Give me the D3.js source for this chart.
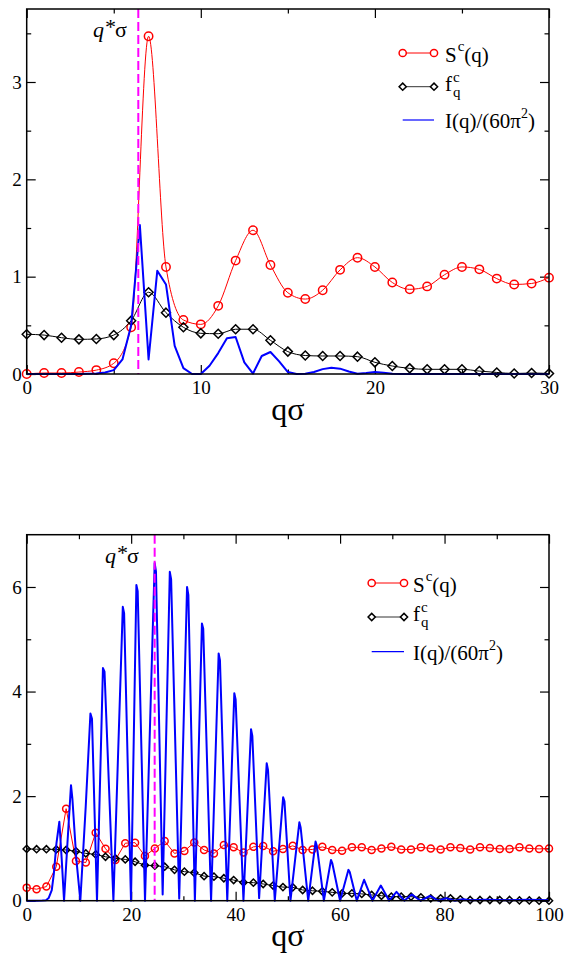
<!DOCTYPE html>
<html>
<head>
<meta charset="utf-8">
<script src="https://cdn.jsdelivr.net/npm/d3@7/dist/d3.min.js"></script>
<style>
  body { margin: 0; background: #fff; }
  svg { display: block; }
</style>
</head>
<body>
<svg id="chart" width="566" height="954"></svg>
<script>
// ---- Upper panel data (integer q grid) ----
const qTop = [0,1,2,3,4,5,6,7,8,9,10,11,12,13,14,15,16,17,18,19,20,21,22,23,24,25,26,27,28,29,30];
const sTop = [0.00,0.01,0.01,0.02,0.04,0.11,0.48,3.47,1.10,0.555,0.51,0.70,1.165,1.477,1.12,0.835,0.77,0.86,1.07,1.195,1.10,0.94,0.87,0.90,1.02,1.10,1.075,0.98,0.92,0.93,0.99];
const fTop = [0.408,0.40,0.373,0.356,0.36,0.40,0.548,0.84,0.63,0.48,0.418,0.414,0.46,0.46,0.346,0.23,0.19,0.185,0.185,0.178,0.12,0.082,0.058,0.048,0.048,0.048,0.03,0.016,0.005,0.01,0.005];
const iTopQ = [0,1,2,3,3.5,4,4.5,5,5.5,6,6.5,7,7.5,8,8.5,9,9.5,10,10.5,11,11.5,12,12.5,13,13.5,14,14.5,15,15.5,16,16.5,17,17.5,18,18.5,19,19.5,20,20.5,21,21.5,22,23,24,25,26,27,28,29,30];
const iTopV = [0,0,0,0,0.002,0.005,0.015,0.04,0.15,0.5,1.53,0.15,1.06,0.92,0.29,0.06,0,0,0.085,0.215,0.367,0.38,0.12,0.005,0.185,0.226,0.13,0.02,0,0.002,0.02,0.05,0.065,0.055,0.025,0.003,0.01,0.02,0.012,0.003,0,0,0,0,0,0,0,0,0,0];
const qStarTop = 6.41;

// ---- Lower panel data ----
const qBot = [0,1.89,3.77,5.66,7.55,9.43,11.32,13.21,15.09,16.98,18.87,20.75,22.64,24.53,26.42,28.30,30.19,32.08,33.96,35.85,37.74,39.62,41.51,43.40,45.28,47.17,49.06,50.94,52.83,54.72,56.60,58.49,60.38,62.26,64.15,66.04,67.92,69.81,71.70,73.58,75.47,77.36,79.25,81.13,83.02,84.91,86.79,88.68,90.57,92.45,94.34,96.23,98.11,100];
const sBot = [0.25,0.22,0.27,0.65,1.76,0.76,0.73,1.30,0.995,0.78,1.10,1.11,0.855,1.00,1.14,0.905,0.95,1.115,0.97,0.905,1.065,1.02,0.92,1.03,1.045,0.945,0.99,1.05,0.97,0.98,1.03,0.97,0.955,1.02,1.02,0.97,1.00,1.03,0.98,0.98,1.02,1.00,0.98,1.02,1.01,0.98,1.02,1.01,0.99,0.99,1.02,1.00,0.99,1.00];
const fBot = [0.99,0.985,0.985,0.98,0.97,0.945,0.905,0.885,0.84,0.81,0.79,0.745,0.68,0.67,0.65,0.59,0.555,0.535,0.47,0.46,0.43,0.395,0.35,0.345,0.32,0.29,0.26,0.255,0.205,0.19,0.18,0.16,0.14,0.14,0.13,0.11,0.095,0.077,0.077,0.077,0.064,0.045,0.045,0.045,0.026,0.013,0.013,0.013,0.013,0.013,0.005,0.005,0.0,0.0];
const iBotQ = [0,2,3,3.7,4.2,4.8,5.2,5.7,6.25,6.7,7.15,7.8,8.48,8.75,9.5,10.27,11.3,12.2,12.5,13.46,14.6,14.9,16.6,18.4,18.65,19.97,21.0,21.25,22.65,24.5,24.75,26.03,27.4,27.65,29.2,30.7,30.95,32.2,33.55,33.8,35.3,36.75,37.0,38.4,39.75,40.0,41.5,42.95,43.2,44.5,45.95,46.2,47.5,49.1,49.35,50.5,52.2,52.45,53.9,55.3,55.55,56.9,58.26,58.5,60.0,61.6,61.85,63.2,64.6,66.2,67.8,69.4,70.8,72.3,73.7,75.4,77.2,78.8,80.3,82,83.5,85,88,92,96,100];
const iBotV = [0,0,0.002,0.01,0.05,0.2,0.52,1.1,1.51,0.8,0.0,1.1,2.21,1.95,0.8,0.0,1.8,3.58,3.48,0.0,4.45,4.38,0.0,5.62,5.5,0.0,6.04,5.92,0.0,6.46,6.3,0.12,6.29,6.15,0.04,6.0,5.85,0.0,5.3,5.2,0.0,4.73,4.6,0.0,3.97,3.85,0.0,3.28,3.15,0.05,2.63,2.5,0.0,1.98,1.9,0.0,1.5,1.4,0.0,1.13,1.05,0.0,0.78,0.72,0.0,0.59,0.55,0.0,0.4,0.0,0.29,0.0,0.17,0.0,0.12,0.0,0.09,0.0,0.05,0.0,0.03,0.01,0.02,0.01,0.02,0.01];
const qStarBot = 24.5;

// ---- Tick values ----
const xMajorTop = [0,10,20,30], xMinorTop = [5,15,25];
const yMajorTop = [0,1,2,3],    yMinorTop = [0.5,1.5,2.5,3.5];
const xMajorBot = [0,20,40,60,80,100], xMinorBot = [10,30,50,70,90];
const yMajorBot = [0,2,4,6],    yMinorBot = [1,3,5];

const RED = "#ff0000", BLUE = "#0000ff", MAGENTA = "#ff00ff";
const SERIF = '"Liberation Serif", "DejaVu Serif", serif';
const svg = d3.select("#chart");

function zip(a, b) { return a.map((v, i) => [v, b[i]]); }
function txt(sel, x, y, size) {
  return sel.append("text").attr("x", x).attr("y", y)
    .style("font-family", SERIF).style("font-size", size + "px").style("fill", "#000");
}

function drawPanel(c) {
  const x = d3.scaleLinear().domain(c.xDomain).range([c.left, c.right]);
  const y = d3.scaleLinear().domain(c.yDomain).range([c.bottom, c.top]);
  const g = svg.append("g");

  // inward-pointing ticks on all four sides
  function axis(gen, tr, vals, size, labelled, pad) {
    const a = g.append("g").attr("transform", tr)
      .call(gen.tickValues(vals).tickSize(size).tickPadding(pad || 0)
        .tickFormat(labelled ? d3.format("d") : () => ""));
    a.select(".domain").remove();
    a.selectAll("line").attr("stroke", "#000").attr("stroke-width", 1.2);
    a.selectAll("text").style("font-size", "19px").style("font-family", SERIF).style("fill", "#000");
  }
  axis(d3.axisBottom(x), `translate(0,${c.bottom})`, c.xMajor, -9, true, 7);
  axis(d3.axisBottom(x), `translate(0,${c.bottom})`, c.xMinor, -4.5, false);
  axis(d3.axisTop(x), `translate(0,${c.top})`, c.xMajor, -9, false);
  axis(d3.axisTop(x), `translate(0,${c.top})`, c.xMinor, -4.5, false);
  axis(d3.axisLeft(y), `translate(${c.left},0)`, c.yMajor, -9, true, 5);
  axis(d3.axisLeft(y), `translate(${c.left},0)`, c.yMinor, -4.5, false);
  axis(d3.axisRight(y), `translate(${c.right},0)`, c.yMajor, -9, false);
  axis(d3.axisRight(y), `translate(${c.right},0)`, c.yMinor, -4.5, false);

  // S^c(q)
  g.append("path").datum(zip(c.q, c.s))
    .attr("d", d3.line().x(d => x(d[0])).y(d => y(d[1])).curve(c.smooth ? d3.curveMonotoneX : d3.curveLinear))
    .attr("fill", "none").attr("stroke", RED).attr("stroke-width", 1);
  g.append("g").selectAll("circle").data(zip(c.q, c.s)).join("circle")
    .attr("cx", d => x(d[0])).attr("cy", d => y(d[1])).attr("r", c.circR)
    .attr("fill", "none").attr("stroke", RED).attr("stroke-width", 1.5);

  // f_q^c
  g.append("path").datum(zip(c.q, c.f))
    .attr("d", d3.line().x(d => x(d[0])).y(d => y(d[1])).curve(c.smooth ? d3.curveMonotoneX : d3.curveLinear))
    .attr("fill", "none").attr("stroke", "#000").attr("stroke-width", 1);
  const dm = c.diaR;
  g.append("g").selectAll("path").data(zip(c.q, c.f)).join("path")
    .attr("d", d => { const cx = x(d[0]), cy = y(d[1]);
      return `M${cx},${cy - dm}L${cx + dm},${cy}L${cx},${cy + dm}L${cx - dm},${cy}Z`; })
    .attr("fill", "none").attr("stroke", "#000").attr("stroke-width", 1.5);

  // I(q)/(60 pi^2)
  g.append("path").datum(zip(c.iq, c.iv))
    .attr("d", d3.line().x(d => x(d[0])).y(d => y(d[1])))
    .attr("fill", "none").attr("stroke", BLUE).attr("stroke-width", 2).attr("stroke-linejoin", "round");

  // q* marker
  g.append("line").attr("x1", x(c.qStar)).attr("x2", x(c.qStar))
    .attr("y1", c.top).attr("y2", c.bottom)
    .attr("stroke", MAGENTA).attr("stroke-width", 2).attr("stroke-dasharray", "9,4");

  // frame
  g.append("rect").attr("x", c.left).attr("y", c.top)
    .attr("width", c.right - c.left).attr("height", c.bottom - c.top)
    .attr("fill", "none").attr("stroke", "#000").attr("stroke-width", 1.5);

  // q*σ label
  const ql = txt(g, c.qsX, c.qsY, 22);
  ql.append("tspan").style("font-style", "italic").text("q");
  ql.append("tspan").style("font-style", "italic").attr("dy", -3).text("*");
  ql.append("tspan").attr("dy", 3).text("σ");

  // axis title
  txt(g, (c.left + c.right) / 2, c.titleY, 32).attr("text-anchor", "middle").text("qσ");

  // legend
  const L = c.legend;
  const r1 = L.rows[0], r2 = L.rows[1], r3 = L.rows[2];
  g.append("line").attr("x1", L.x1).attr("x2", L.x2).attr("y1", r1).attr("y2", r1).attr("stroke", RED).attr("stroke-width", 1);
  [L.x1, L.x2].forEach(px => g.append("circle").attr("cx", px).attr("cy", r1).attr("r", 3.6)
    .attr("fill", "#fff").attr("stroke", RED).attr("stroke-width", 1.5));
  const t1 = txt(g, L.tx, r1 + 9, 21);
  t1.append("tspan").text("S");
  t1.append("tspan").style("font-size", "15px").attr("dx", 1).attr("dy", -11).text("c");
  t1.append("tspan").attr("dy", 11).text("(q)");

  g.append("line").attr("x1", L.x1).attr("x2", L.x2).attr("y1", r2).attr("y2", r2).attr("stroke", "#333").attr("stroke-width", 1);
  [L.x1, L.x2].forEach(px => g.append("path")
    .attr("d", `M${px},${r2 - 3.6}L${px + 3.6},${r2}L${px},${r2 + 3.6}L${px - 3.6},${r2}Z`)
    .attr("fill", "#fff").attr("stroke", "#000").attr("stroke-width", 1.5));
  txt(g, L.tx, r2 + 4, 21).text("f");
  txt(g, L.tx + 8, r2 - 5, 15).text("c");
  txt(g, L.tx + 8, r2 + 10, 15).text("q");

  g.append("line").attr("x1", L.x1).attr("x2", L.x2).attr("y1", r3).attr("y2", r3).attr("stroke", BLUE).attr("stroke-width", 1.2);
  const t3 = txt(g, L.tx, r3 + 8, 21);
  t3.append("tspan").text("I(q)/(60π");
  t3.append("tspan").style("font-size", "14px").attr("dy", -10).text("2");
  t3.append("tspan").attr("dy", 10).text(")");
}

drawPanel({
  left: 26.7, right: 549, top: 9, bottom: 374,
  xDomain: [0, 30], yDomain: [0, 3.75],
  xMajor: xMajorTop, xMinor: xMinorTop, yMajor: yMajorTop, yMinor: yMinorTop,
  q: qTop, s: sTop, f: fTop, iq: iTopQ, iv: iTopV, qStar: qStarTop,
  smooth: true, circR: 4.2, diaR: 4.5,
  qsX: 93, qsY: 37, titleY: 420,
  legend: { x1: 402.7, x2: 434, tx: 445, rows: [53, 86.7, 120] }
});

drawPanel({
  left: 26.7, right: 549, top: 534.7, bottom: 900.7,
  xDomain: [0, 100], yDomain: [0, 7],
  xMajor: xMajorBot, xMinor: xMinorBot, yMajor: yMajorBot, yMinor: yMinorBot,
  q: qBot, s: sBot, f: fBot, iq: iBotQ, iv: iBotV, qStar: qStarBot,
  smooth: false, circR: 3.5, diaR: 3.6,
  qsX: 105, qsY: 563, titleY: 946,
  legend: { x1: 371.7, x2: 404, tx: 413, rows: [583, 617, 651.7] }
});
</script>
</body>
</html>
